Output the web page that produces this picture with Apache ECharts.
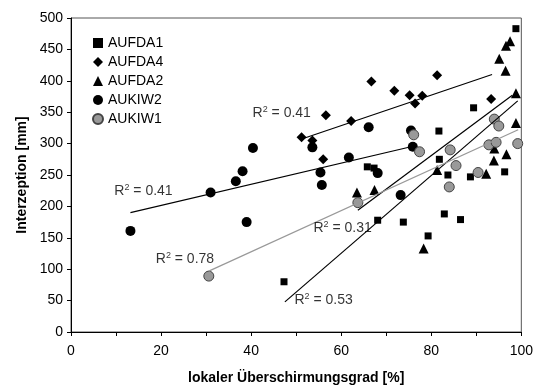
<!DOCTYPE html>
<html>
<head>
<meta charset="utf-8">
<script src="https://cdn.jsdelivr.net/npm/echarts@6/dist/echarts.min.js"></script>
<style>html,body{margin:0;padding:0;background:#fff;}#c{width:536px;height:390px;}</style>
</head>
<body>
<div id="c"></div>
<script>
// ---- data ----
const seriesNames = ['AUFDA1', 'AUFDA4', 'AUFDA2', 'AUKIW2', 'AUKIW1'];
const aufda1 = [[47.3,80],[65.8,263],[67.3,261],[68.1,178],[73.8,175],[79.3,153],[81.7,320],[81.8,275],[82.9,188],[83.7,250],[86.5,179],[88.7,247],[89.4,357],[96.3,255],[98.8,483]];
const aufda4 = [[51.2,310],[53.6,305],[56,275],[56.6,345],[62.2,336],[66.7,399],[71.8,384],[75.2,377],[76.4,364],[78,376],[81.3,409],[93.3,371]];
const aufda2 = [[63.5,222],[67.4,226],[78.3,133],[81.3,258],[92.2,252],[93.9,273],[94,292],[96.7,283],[98.8,333],[98.8,380],[96.5,416],[95.1,435],[96.6,456],[97.5,463]];
const aukiw2 = [[13.2,161],[31,222],[36.6,240],[38.1,256],[39,175],[40.4,293],[53.6,294],[55.4,254],[55.7,234],[61.7,278],[66.1,326],[68.1,253],[73.2,218],[75.5,321],[75.9,295]];
const aukiw1 = [[30.6,89],[63.7,206],[76.1,314],[77.4,287],[84.2,290],[84,231],[85.5,265],[90.4,254],[92.8,298],[94.4,302],[94,339],[95,328],[99.2,300]];
// trend line end points
const trendAufda1 = [[47.5,48],[99.2,368]];
const trendAufda4 = [[51.9,309],[93.5,410]];
const trendAufda2 = [[63.7,194],[98,377]];
const trendAukiw2 = [[13.2,190],[75.5,295]];
const trendAukiw1 = [[30.6,97],[99.3,322]];
const r2Values = ['0.53', '0.41', '0.31', '0.41', '0.78'];
const xTicks = [0, 20, 40, 60, 80, 100];

const FONT = '"Liberation Sans", Arial, sans-serif';
const chart = echarts.init(document.getElementById('c'), null, {renderer: 'canvas'});

function scatter(name, data, symbol, size, color, border) {
  return {
    name, type: 'scatter', data, symbol, symbolSize: size,
    itemStyle: {color, borderColor: border || color, borderWidth: border ? 1 : 0, opacity: 1},
    z: 3
  };
}
function trend(data, color) {
  return {
    type: 'line', data, symbol: 'none', silent: true,
    lineStyle: {color, width: 1.2}, z: 4, legendHoverLink: false
  };
}
// annotation positions (in axis units)
const labelAnchors = [[56.1,50.5],[46.8,348.6],[60.3,165.6],[16.1,224],[25.3,116.7]];
function r2Label(pos, val) {
  return {
    type: 'scatter', silent: true, symbolSize: 0, z: 6,
    data: [pos],
    label: {
      show: true, position: 'inside',
      formatter: 'R{s|2} = ' + val,
      fontFamily: FONT, fontSize: 14, color: '#000',
      rich: {s: {fontFamily: FONT, fontSize: 9, color: '#000', padding: [0, 0, 7, 0]}}
    }
  };
}

const option = {
  animation: false,
  backgroundColor: '#fff',
  textStyle: {fontFamily: FONT},
  grid: {left: 71, right: 14, top: 18, bottom: 55, show: true, borderColor: '#555', borderWidth: 1, containLabel: false},
  legend: {
    data: seriesNames, orient: 'vertical', left: 87, top: 31,
    itemWidth: 10, itemHeight: 10, itemGap: 5,
    textStyle: {fontFamily: FONT, fontSize: 14, color: '#000'}
  },
  xAxis: {
    type: 'value', min: 0, max: 100, interval: 10,
    name: 'lokaler Überschirmungsgrad [%]', nameLocation: 'middle', nameGap: 39,
    nameTextStyle: {fontFamily: FONT, fontSize: 14, fontWeight: 'bold', color: '#000'},
    axisLine: {show: true, onZero: false, lineStyle: {color: '#000', width: 1}},
    axisTick: {show: true, length: 4, inside: false, lineStyle: {color: '#000'}},
    axisLabel: {fontFamily: FONT, fontSize: 14, color: '#000', margin: 12,
      formatter: v => xTicks.indexOf(v) >= 0 ? String(v) : ''},
    splitLine: {show: false}
  },
  yAxis: {
    type: 'value', min: 0, max: 500, interval: 50,
    name: 'Interzeption [mm]', nameLocation: 'middle', nameGap: 40,
    nameTextStyle: {fontFamily: FONT, fontSize: 14, fontWeight: 'bold', color: '#000'},
    axisLine: {show: true, onZero: false, lineStyle: {color: '#000', width: 1}},
    axisTick: {show: true, length: 4, inside: false, lineStyle: {color: '#000'}},
    axisLabel: {fontFamily: FONT, fontSize: 14, color: '#000', margin: 8},
    splitLine: {show: false}
  },
  series: [
    scatter('AUFDA1', aufda1, 'rect', 7, '#000'),
    scatter('AUFDA4', aufda4, 'diamond', 10, '#000'),
    scatter('AUFDA2', aufda2, 'triangle', 10, '#000'),
    scatter('AUKIW2', aukiw2, 'circle', 10, '#000'),
    scatter('AUKIW1', aukiw1, 'circle', 10, '#999', '#444'),
    trend(trendAufda1, '#000'),
    trend(trendAufda4, '#000'),
    trend(trendAufda2, '#000'),
    trend(trendAukiw2, '#000'),
    trend(trendAukiw1, '#999'),
    ...labelAnchors.map((p, i) => r2Label(p, r2Values[i]))
  ]
};
chart.setOption(option);
</script>
</body>
</html>
